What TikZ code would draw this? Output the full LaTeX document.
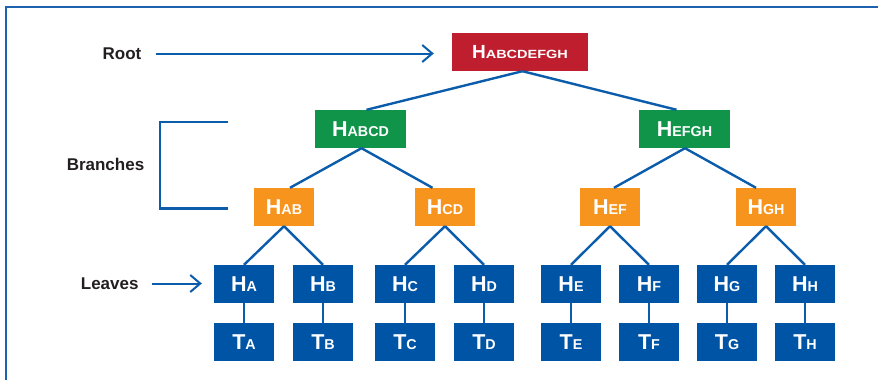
\documentclass[tikz,border=0pt]{standalone}
\usepackage{fontspec}
\setmainfont{Liberation Sans}
\usetikzlibrary{arrows.meta}
\definecolor{cred}{HTML}{BE1E2D}
\definecolor{cgreen}{HTML}{10944A}
\definecolor{corange}{HTML}{F7941E}
\definecolor{cblue}{HTML}{0054A6}
\definecolor{cline}{HTML}{0B5CAB}
\definecolor{cframe}{HTML}{1D62AE}
\definecolor{ctext}{HTML}{231F20}
\newcommand\hlab[2]{{\fontsize{21.5}{21.5}\selectfont\bfseries #1}{\fontsize{14.3}{14.3}\selectfont\bfseries #2}}
\newcommand\rootlab{{\fontsize{19}{19}\selectfont\bfseries H}\scalebox{1}[0.82]{\fontsize{14.5}{14.5}\selectfont\bfseries ABCDEFGH}}
\begin{document}
\begin{tikzpicture}[x=1pt,y=-1pt,
  box/.style={draw=none, inner sep=0pt, minimum height=38pt, text=white},
  rootbox/.style={box, fill=cred, minimum width=136pt},
  greenbox/.style={box, fill=cgreen, minimum width=91pt},
  orangebox/.style={box, fill=corange, minimum width=60pt},
  leafbox/.style={box, fill=cblue, minimum width=60pt},
  lbl/.style={text=ctext, font=\fontsize{17}{17}\selectfont\bfseries, inner sep=0pt},
  edge/.style={draw=cline, line width=2.4pt},
  pointer/.style={draw=cline, line width=2pt, -{Straight Barb[length=10pt,width=17pt]}},
  frame/.style={draw=cframe, line width=2.5pt}
]
\useasboundingbox (0,0) rectangle (878,380);
\draw[frame] (878,7) -- (6,7) -- (6,381);

% nodes
\node[rootbox] (root) at (520,52) {\rootlab};
\node[greenbox] (habcd) at (360.5,129) {\hlab{H}{ABCD}};
\node[greenbox] (hefgh) at (684.5,129) {\hlab{H}{EFGH}};
\node[orangebox] (hab) at (284,207) {\hlab{H}{AB}};
\node[orangebox] (hcd) at (445,207) {\hlab{H}{CD}};
\node[orangebox] (hef) at (610,207) {\hlab{H}{EF}};
\node[orangebox] (hgh) at (766,207) {\hlab{H}{GH}};
\foreach \n/\x in {a/244,b/323,c/405,d/484,e/571,f/649,g/727,h/805}{
  \node[leafbox] (h\n) at (\x,284) {\hlab{H}{\MakeUppercase{\n}}};
  \node[leafbox] (t\n) at (\x,341.7) {\hlab{T}{\MakeUppercase{\n}}};
  \draw[edge] (h\n) -- (t\n);
}

% tree edges
\draw[edge] ([xshift=2.5pt]root.south) -- ([xshift=6pt]habcd.north);
\draw[edge] ([xshift=2.5pt]root.south) -- ([xshift=-8pt]hefgh.north);
\draw[edge] ([xshift=1pt]habcd.south) -- ([xshift=6pt]hab.north);
\draw[edge] ([xshift=1pt]habcd.south) -- ([xshift=-12.5pt]hcd.north);
\draw[edge] ([xshift=0.5pt]hefgh.south) -- ([xshift=4pt]hef.north);
\draw[edge] ([xshift=0.5pt]hefgh.south) -- ([xshift=-10pt]hgh.north);
\draw[edge] (hab.south) -- (ha.north);
\draw[edge] (hab.south) -- (hb.north);
\draw[edge] (hcd.south) -- (hc.north);
\draw[edge] (hcd.south) -- (hd.north);
\draw[edge] (hef.south) -- (he.north);
\draw[edge] (hef.south) -- (hf.north);
\draw[edge] (hgh.south) -- (hg.north);
\draw[edge] (hgh.south) -- (hh.north);

% labels
\node[lbl] (rootlbl) at (122,53.5) {Root};
\node[lbl] (brlbl) at (105.5,164) {Branches};
\node[lbl] (leaveslbl) at (109.7,283.5) {Leaves};

\draw[pointer, shorten <=14pt, shorten >=18pt] (rootlbl.east) -- (rootlbl.east -| root.west);
\draw[pointer, shorten <=13pt, shorten >=12pt] (leaveslbl.east) -- (leaveslbl.east -| ha.west);

% bracket
\draw[edge] (227.5,122) -- (160,122) -- (160,208.5) -- (227.5,208.5);
\end{tikzpicture}
\end{document}
